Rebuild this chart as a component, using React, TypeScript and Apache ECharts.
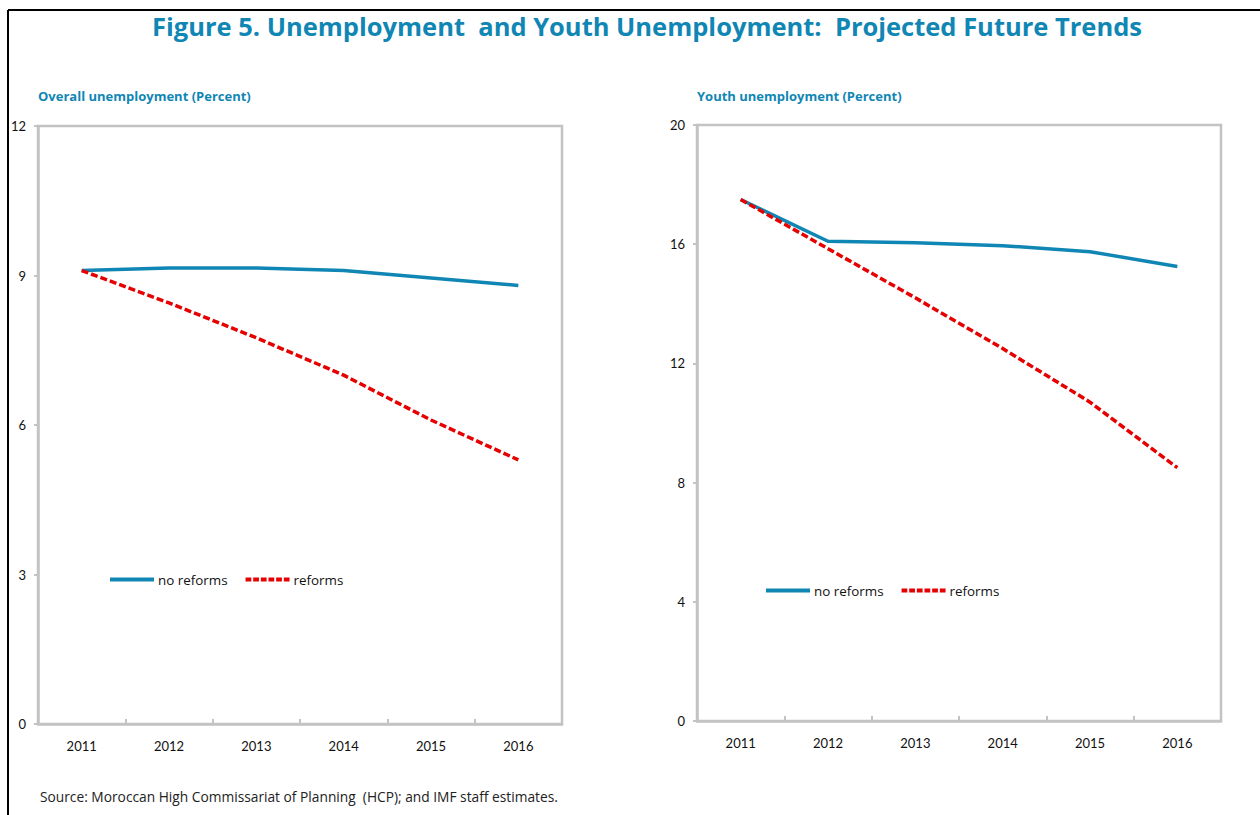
import React, { useEffect, useRef } from "react";
import * as echarts from "echarts";

const years = ["2011", "2012", "2013", "2014", "2015", "2016"];
const overallNoReforms = [9.1, 9.15, 9.15, 9.1, 8.95, 8.8];
const overallReforms = [9.1, 8.45, 7.75, 7.0, 6.1, 5.3];
const youthNoReforms = [17.5, 16.1, 16.05, 15.95, 15.75, 15.25];
const youthReforms = [17.5, 15.85, 14.2, 12.5, 10.7, 8.5];

const BLUE = "#1086b4";
const RED = "#e60000";
const GRID_GRAY = "#c3c3c3";
const FONT = "Lato, 'Noto Sans', sans-serif";
const FONT2 = "'Open Sans', 'Noto Sans', sans-serif";

const SOLID_ICON = "path://M0,0H44V4H0Z";
const DASH_ICON =
  "path://M0,0H6V4H0Z M8,0H14V4H8Z M16,0H22V4H16Z M24,0H30V4H24Z M32,0H38V4H32Z M40,0H46V4H40Z";

function xAxisFor(gridIndex: number) {
  return {
    type: "category",
    gridIndex,
    data: years,
    boundaryGap: true,
    axisLine: { show: true, lineStyle: { color: GRID_GRAY, width: 2.5 } },
    axisTick: { show: true, inside: true, length: 5, alignWithLabel: false, lineStyle: { color: GRID_GRAY, width: 2 } },
    axisLabel: { color: "#111", fontSize: 13, fontFamily: FONT, margin: 15 },
    splitLine: { show: false },
  };
}

function yAxisFor(gridIndex: number, max: number, interval: number) {
  return {
    type: "value",
    gridIndex,
    min: 0,
    max,
    interval,
    axisLine: { show: true, lineStyle: { color: GRID_GRAY, width: 2.5 } },
    axisTick: { show: true, inside: false, length: 4, lineStyle: { color: GRID_GRAY, width: 2 } },
    axisLabel: { color: "#111", fontSize: 13, fontFamily: FONT, margin: 12 },
    splitLine: { show: false },
  };
}

function legendFor(left: number, top: number) {
  return {
    left,
    top,
    itemWidth: 44,
    itemHeight: 4,
    itemGap: 18,
    padding: 0,
    textStyle: { color: "#111", fontSize: 13.4, fontFamily: FONT2, padding: [0, 0, 0, -1] },
    data: [
      { name: "no reforms", icon: SOLID_ICON, itemStyle: { color: BLUE } },
      { name: "reforms", icon: DASH_ICON, itemStyle: { color: RED } },
    ],
    selectedMode: false,
  };
}

export default function App() {
  const ref = useRef<HTMLDivElement>(null);
  useEffect(() => {
    if (!ref.current) return;
    const chart = echarts.init(ref.current, undefined, { renderer: "svg" });
    const noRefStyle = { color: BLUE, width: 3.5, type: "solid" as const };
    const refStyle = { color: RED, width: 3.5, type: [7, 3] as any };
    chart.setOption({
      animation: false,
      backgroundColor: "#fff",
      textStyle: { fontFamily: FONT },
      grid: [
        { left: 38, top: 126, width: 524, height: 598, show: true, borderColor: GRID_GRAY, borderWidth: 2.5, containLabel: false },
        { left: 697, top: 125, width: 524, height: 596, show: true, borderColor: GRID_GRAY, borderWidth: 2.5, containLabel: false },
      ],
      xAxis: [xAxisFor(0), xAxisFor(1)],
      yAxis: [yAxisFor(0, 12, 3), yAxisFor(1, 20, 4)],
      legend: [legendFor(110, 573), legendFor(766, 584)],
      title: [
        {
          text: "Figure 5. Unemployment  and Youth Unemployment:  Projected Future Trends",
          left: 647,
          textAlign: "center",
          top: 13,
          padding: 0,
          textStyle: { color: BLUE, fontSize: 25.5, fontWeight: "bold", fontFamily: FONT2 },
        },
        {
          text: "Overall unemployment (Percent)",
          left: 38,
          top: 89,
          padding: 0,
          textStyle: { color: BLUE, fontSize: 13, fontWeight: "bold", fontFamily: FONT2 },
        },
        {
          text: "Youth unemployment (Percent)",
          left: 697,
          top: 89,
          padding: 0,
          textStyle: { color: BLUE, fontSize: 13, fontWeight: "bold", fontFamily: FONT2 },
        },
        {
          text: "Source: Moroccan High Commissariat of Planning  (HCP); and IMF staff estimates.",
          left: 40,
          top: 789,
          padding: 0,
          textStyle: { color: "#222", fontSize: 13.75, fontWeight: "normal", fontFamily: FONT2 },
        },
      ],
      graphic: [
        { type: "line", shape: { x1: 8, y1: 10, x2: 1260, y2: 10 }, style: { stroke: "#000", lineWidth: 2 } },
        { type: "line", shape: { x1: 8, y1: 10, x2: 8, y2: 815 }, style: { stroke: "#000", lineWidth: 2 } },
      ],
      series: [
        { name: "no reforms", type: "line", xAxisIndex: 0, yAxisIndex: 0, data: overallNoReforms, symbol: "none", lineStyle: noRefStyle, itemStyle: { color: BLUE } },
        { name: "reforms", type: "line", xAxisIndex: 0, yAxisIndex: 0, data: overallReforms, symbol: "none", lineStyle: refStyle, itemStyle: { color: RED } },
        { name: "no reforms", type: "line", xAxisIndex: 1, yAxisIndex: 1, data: youthNoReforms, symbol: "none", lineStyle: noRefStyle, itemStyle: { color: BLUE } },
        { name: "reforms", type: "line", xAxisIndex: 1, yAxisIndex: 1, data: youthReforms, symbol: "none", lineStyle: refStyle, itemStyle: { color: RED } },
      ],
    });
    return () => chart.dispose();
  }, []);
  return (
    <div
      ref={ref}
      style={{ position: "absolute", left: 0, top: 0, width: 1260, height: 815 }}
    />
  );
}
